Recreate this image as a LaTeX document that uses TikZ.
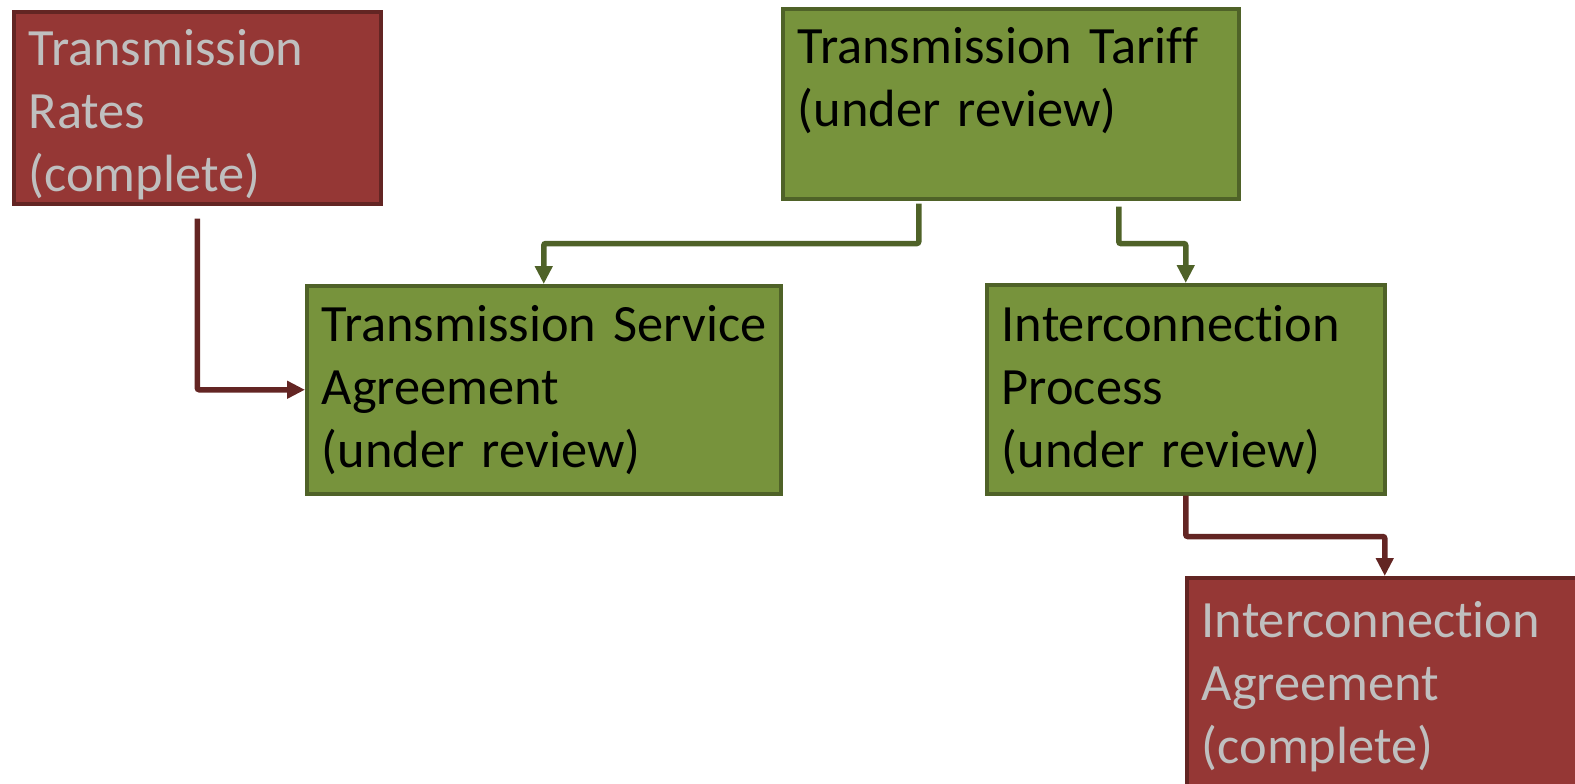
\documentclass[tikz,border=0pt]{standalone}
\usepackage{fontspec}
\setmainfont{Carlito}[Ligatures=NoCommon]
\usepackage{tikz}
\usetikzlibrary{positioning,arrows.meta}
\definecolor{doneRed}{HTML}{953735}
\definecolor{doneRedLine}{HTML}{632523}
\definecolor{reviewGreen}{HTML}{77933C}
\definecolor{reviewGreenLine}{HTML}{4F6228}
\definecolor{doneText}{HTML}{BFBFBF}

\begin{document}
\begin{tikzpicture}[
  x=0.5pt, y=-0.5pt,
  >={Triangle[length=9pt,width=8.5pt]},
  stage/.style={anchor=north west, line width=1.75pt, inner xsep=7.5pt, inner ysep=0pt,
                align=left, font=\fontsize{26.2pt}{31.5pt}\selectfont},
  complete/.style={stage, fill=doneRed, draw=doneRedLine, text=doneText},
  review/.style={stage, fill=reviewGreen, draw=reviewGreenLine, text=black},
  redlink/.style={->, line width=2.75pt, doneRedLine, rounded corners=1pt},
  greenlink/.style={->, line width=2.75pt, reviewGreenLine, rounded corners=1pt}
]
\useasboundingbox (0,0) rectangle (1575,783);
\clip (0,0) rectangle (1575,783);

% --- Completed items (red) ---
\node[complete, text width=168.5pt, text height=27pt, text depth=69pt] (rates) at (12,10)
  {Transmission\\Rates\\(complete)};
\node[complete, text width=183pt, text height=30pt, text depth=75pt] (ia) at (1185,576)
  {Interconnection\\Agreement\\(complete)};

% --- Items under review (green) ---
\node[review, text width=213pt, text height=27.5pt, text depth=67.5pt] (tariff) at (781,7)
  {Transmission~Tariff\\(under~review)};
\node[review, text width=222pt, text height=28pt, text depth=76pt] (tsa) at (305,284)
  {\mbox{Transmission Service}\\Agreement\\(under~review)};
\node[review, text width=184pt, text height=28.5pt, text depth=76pt] (ip) at (985,283)
  {Interconnection\\Process\\(under~review)};

% --- Dependencies ---
\draw[redlink, shorten <=6.5pt] (rates.south) |- (tsa.west);
\draw[greenlink, shorten <=1.5pt] ([xshift=-46pt]tariff.south) -- ++(0,43) -| (tsa.north);
\draw[greenlink, shorten <=3pt] ([xshift=54pt]tariff.south) -- ++(0,43) -| (ip.north);
\draw[redlink] (ip.south) -- ++(0,41) -| (ia.north);

\end{tikzpicture}
\end{document}
